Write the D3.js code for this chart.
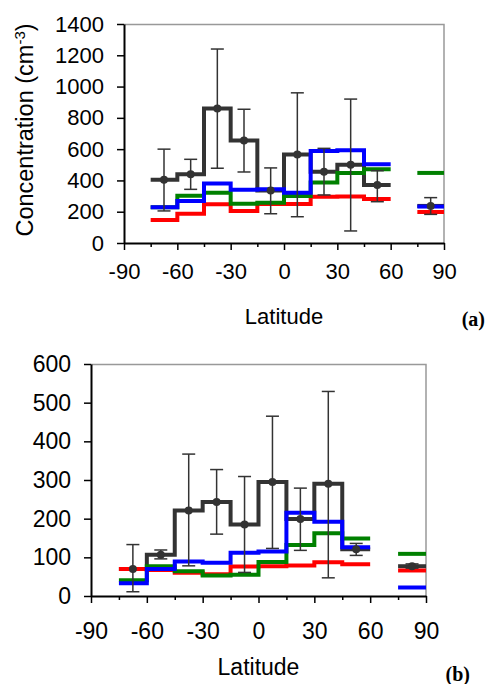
<!DOCTYPE html>
<html>
<head>
<meta charset="utf-8">
<script src="https://cdn.jsdelivr.net/npm/d3@7"></script>
<style>
  body { margin: 0; background: #fff; }
  svg { display: block; }
  text { font-family: "Liberation Sans", Arial, sans-serif; fill: #000; }
</style>
</head>
<body>
<svg width="488" height="684"></svg>
<script>
// latitude bins (start of each 15 degree band), last one is 75-90
const latStart = [-75, -60, -45, -30, -15, 0, 15, 30, 45, 75];
const binWidth = 15;
const xTicks = [-90, -75, -60, -45, -30, -15, 0, 15, 30, 45, 60, 75, 90];

// panel (a)
const yTicksA = [0, 200, 400, 600, 800, 1000, 1200, 1400];
const obsA   = [405, 440, 860, 655, 335, 565, 455, 500, 370, 237];
const obsHiA = [600, 535, 1240, 855, 480, 960, 605, 920, 462, 290];
const obsLoA = [205, 343, 478, 454, 187, 168, 307, 77, 264, 183];
const blueA  = [228, 268, 380, 340, 343, 322, 588, 593, 503, 233];
const greenA = [228, 302, 322, 251, 258, 300, 386, 448, 471, 448];
const redA   = [147, 187, 247, 205, 250, 250, 296, 298, 281, 198];

// panel (b)
const yTicksB = [0, 100, 200, 300, 400, 500, 600];
const obsB   = [70, 107, 221, 243, 185, 295, 199, 290, 121, 77];
const obsHiB = [133, 119, 367, 327, 309, 465, 279, 529, 136, 83];
const obsLoB = [11, 96, 78, 160, 61, 123, 118, 47, 105, 72];
const blueB  = [33, 70, 89, 86, 112, 115, 215, 192, 126, 22];
const greenB = [41, 77, 64, 53, 55, 88, 132, 162, 149, 109];
const redB   = [70, 67, 60, 56, 76, 77, 79, 87, 82, 66];

const svg = d3.select("svg");

drawPanel({
  left: 124, top: 24, width: 320, height: 219, font: 22, labelGap: 13,
  yMax: 1400, yTicks: yTicksA,
  obs: obsA, hi: obsHiA, lo: obsLoA, blue: blueA, green: greenA, red: redA,
  xTitleY: 324, tag: "(a)", tagX: 485, tagY: 326, yTitle: true
});

drawPanel({
  left: 91, top: 364, width: 335, height: 232, font: 23, labelGap: 20,
  yMax: 600, yTicks: yTicksB,
  obs: obsB, hi: obsHiB, lo: obsLoB, blue: blueB, green: greenB, red: redB,
  xTitleY: 675, tag: "(b)", tagX: 470, tagY: 681, yTitle: false
});

function drawPanel(p) {
  const g = svg.append("g").attr("transform", `translate(${p.left},${p.top})`);

  const x = d3.scaleLinear().domain([-90, 90]).range([0, p.width]);
  const y = d3.scaleLinear().domain([0, p.yMax]).range([p.height, 0]);

  // grey frame on top / right
  g.append("path")
    .attr("d", `M0,0.5H${p.width}V${p.height}`)
    .attr("fill", "none")
    .attr("stroke", "#999")
    .attr("stroke-width", 1.5);

  // step lines, split where bins are not contiguous
  const line = d3.line().x(d => x(d[0])).y(d => y(d[1]));
  function runs(vals) {
    const out = [];
    let cur = [];
    vals.forEach((v, i) => {
      const x0 = latStart[i];
      if (cur.length && cur[cur.length - 1][0] !== x0) { out.push(cur); cur = []; }
      cur.push([x0, v], [x0 + binWidth, v]);
    });
    out.push(cur);
    return out;
  }

  const series = [
    { vals: p.obs, color: "#333333" },
    { vals: p.red, color: "#ff0000" },
    { vals: p.green, color: "#008000" },
    { vals: p.blue, color: "#0000ff" }
  ];
  series.forEach(s => {
    g.append("g").selectAll("path")
      .data(runs(s.vals))
      .enter().append("path")
      .attr("d", line)
      .attr("fill", "none")
      .attr("stroke", s.color)
      .attr("stroke-width", 4)
      .attr("stroke-linejoin", "miter");
  });

  // error bars and points
  const mid = latStart.map(d => d + binWidth / 2);
  const eb = g.append("g").attr("stroke", "#333").attr("stroke-width", 1.5);
  mid.forEach((m, i) => {
    const cx = x(m);
    eb.append("line").attr("x1", cx).attr("x2", cx)
      .attr("y1", y(p.hi[i])).attr("y2", y(p.lo[i]));
    eb.append("line").attr("x1", cx - 6.5).attr("x2", cx + 6.5)
      .attr("y1", y(p.hi[i])).attr("y2", y(p.hi[i]));
    eb.append("line").attr("x1", cx - 6.5).attr("x2", cx + 6.5)
      .attr("y1", y(p.lo[i])).attr("y2", y(p.lo[i]));
  });
  g.append("g").selectAll("circle")
    .data(mid)
    .enter().append("circle")
    .attr("cx", d => x(d))
    .attr("cy", (d, i) => y(p.obs[i]))
    .attr("r", 4)
    .attr("fill", "#333");

  // axes
  const xAxis = g.append("g")
    .attr("transform", `translate(0,${p.height})`)
    .call(d3.axisBottom(x).tickValues(xTicks).tickSize(7).tickSizeOuter(0)
      .tickPadding(p.labelGap).tickFormat(d => d % 30 === 0 ? String(d) : ""));
  xAxis.selectAll(".tick line")
    .attr("y2", d => d % 30 === 0 ? 7 : 4)
    .attr("stroke-width", 1.5);
  xAxis.select(".domain").attr("stroke-width", 2);
  xAxis.selectAll("text").style("font-size", p.font + "px").attr("fill", "#000");

  const yAxis = g.append("g")
    .call(d3.axisLeft(y).tickValues(p.yTicks).tickSize(7).tickSizeOuter(0)
      .tickPadding(13).tickFormat(d => String(d)));
  yAxis.selectAll(".tick line").attr("stroke-width", 1.5);
  yAxis.select(".domain").attr("stroke-width", 2);
  yAxis.selectAll("text").style("font-size", p.font + "px").attr("fill", "#000");

  // titles
  svg.append("text")
    .attr("x", p.left + p.width / 2)
    .attr("y", p.xTitleY)
    .attr("text-anchor", "middle")
    .style("font-size", p.font + "px")
    .text("Latitude");

  svg.append("text")
    .attr("x", p.tagX)
    .attr("y", p.tagY)
    .attr("text-anchor", "end")
    .style("font-family", "'Liberation Serif', 'Times New Roman', serif")
    .style("font-weight", "bold")
    .style("font-size", "20px")
    .text(p.tag);

  if (p.yTitle) {
    const t = svg.append("text")
      .attr("transform", "translate(33,130) rotate(-90)")
      .attr("text-anchor", "middle")
      .style("font-size", "23.5px");
    t.append("tspan").text("Concentration (cm");
    t.append("tspan").attr("baseline-shift", "super").style("font-size", "15px").text("-3");
    t.append("tspan").text(")");
  }
}
</script>
</body>
</html>
